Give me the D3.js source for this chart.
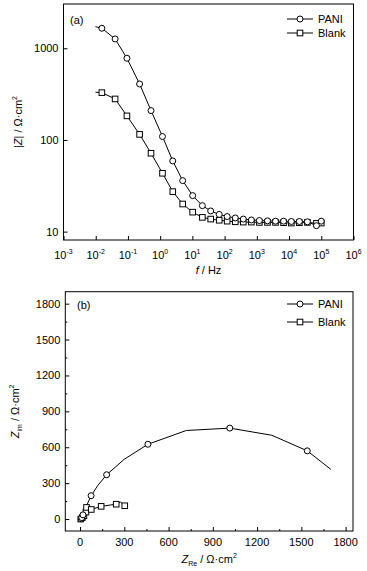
<!DOCTYPE html>
<html><head><meta charset="utf-8">
<script src="https://cdn.jsdelivr.net/npm/d3@7"></script>
<style>
body{margin:0;background:#fff}
text{font-family:"Liberation Sans",Arial,Helvetica,sans-serif;fill:#000}
</style>
</head><body>
<svg id="c" width="367" height="571"></svg>
<script>
// ---------- DATA ----------
// (a) Bode |Z| vs f
const bodeXTickExp = [-3,-2,-1,0,1,2,3,4,5,6];
const bodeYTicks = [10,100,1000];
const bodeFreq = [0.0098,0.0155,0.040,0.093,0.23,0.52,1.18,2.46,5.0,10.2,20.4,37,68,120,214,380,676,1200,2140,3800,6760,11750,20900,37150,70800,100000];
const bodePANI = [1720,1653,1264,778,408,209,109,59,36,24.7,19.2,16.8,15.4,14.6,14.1,13.7,13.4,13.2,13.1,13.0,13.0,12.9,12.9,12.8,11.6,13.0];
const bodeBlank = [332,328,280,183,115,71.6,43.3,27.3,20.0,16.3,14.3,13.7,13.3,13.0,12.8,12.7,12.7,12.6,12.6,12.6,12.5,12.4,12.5,12.6,12.3,12.4];
// (b) Nyquist
const nyqTicks = [0,300,600,900,1200,1500,1800];
const nyqPANIRe = [5,8,12,20,40,75,120,180,300,460,720,1015,1300,1540,1700];
const nyqPANIIm = [0,2,12,35,100,195,280,370,500,625,740,760,700,570,415];
const nyqPANIMarked = [1,2,3,5,7,9,11,13];
const nyqBlankRe = [5,15,26,40,44,76,143,245,274,303];
const nyqBlankIm = [0,12,27,58,97,80,106,124,142,111];
const nyqBlankMarked = [0,1,2,3,4,5,6,7,9];
const seriesNames = ["PANI","Blank"];

// ---------- DRAW ----------
const svg = d3.select("#c");
svg.append("rect").attr("width",367).attr("height",571).attr("fill","#fff");

function circleMark(g,x,y){ g.append("circle").attr("cx",x).attr("cy",y).attr("r",3).attr("fill","#fff").attr("stroke","#000").attr("stroke-width",1); }
function squareMark(g,x,y){ g.append("rect").attr("x",x-2.8).attr("y",y-2.8).attr("width",5.6).attr("height",5.6).attr("fill","#fff").attr("stroke","#000").attr("stroke-width",1); }

// ===== Panel (a) =====
const A = {l:63.5,r:353.5,t:4,b:240};
const xa = d3.scaleLog().domain([1e-3,1e6]).range([A.l,A.r]);
const ya = d3.scaleLog().domain([8.1,3040]).range([A.b,A.t]);
const ga = svg.append("g");

ga.append("g").attr("transform",`translate(0,${A.b})`)
  .call(d3.axisBottom(xa).tickValues(bodeXTickExp.map(e=>Math.pow(10,e))).tickSize(-4).tickFormat(""))
  .call(g=>{g.select(".domain").remove(); g.selectAll("line").attr("stroke","#000");});
ga.append("g").attr("transform",`translate(${A.l},0)`)
  .call(d3.axisLeft(ya).tickValues(bodeYTicks).tickSize(-4).tickFormat(""))
  .call(g=>{g.select(".domain").remove(); g.selectAll("line").attr("stroke","#000");});
ga.append("rect").attr("x",A.l).attr("y",A.t).attr("width",A.r-A.l).attr("height",A.b-A.t)
  .attr("fill","none").attr("stroke","#000").attr("stroke-width",1);

bodeXTickExp.forEach(e=>{
  const t = ga.append("text").attr("x",xa(Math.pow(10,e))).attr("y",A.b+19).attr("text-anchor","middle").attr("font-size",11);
  t.append("tspan").text("10");
  t.append("tspan").attr("dy",-5).attr("font-size",7).text(String(e));
});
bodeYTicks.forEach(v=>{
  ga.append("text").attr("x",A.l-5).attr("y",ya(v)+4).attr("text-anchor","end").attr("font-size",11).text(v);
});
{
  const t = ga.append("text").attr("x",(A.l+A.r)/2).attr("y",274).attr("text-anchor","middle").attr("font-size",11);
  t.append("tspan").attr("font-style","italic").text("f");
  t.append("tspan").text(" / Hz");
  const ty = ga.append("text").attr("transform",`translate(22,${(A.t+A.b)/2}) rotate(-90)`).attr("text-anchor","middle").attr("font-size",11);
  ty.append("tspan").text("|");
  ty.append("tspan").attr("font-style","italic").text("Z");
  ty.append("tspan").text("| / Ω·cm");
  ty.append("tspan").attr("dy",-5).attr("font-size",7).text("2");
}
ga.append("text").attr("x",70).attr("y",24).attr("font-size",11).text("(a)");

const lineA = d3.line().x(d=>xa(d[0])).y(d=>ya(d[1]));
const pA = bodeFreq.map((f,i)=>[f,bodePANI[i]]);
const bA = bodeFreq.map((f,i)=>[f,bodeBlank[i]]);
ga.append("path").attr("d",lineA(pA)).attr("fill","none").attr("stroke","#000").attr("stroke-width",1);
ga.append("path").attr("d",lineA(bA)).attr("fill","none").attr("stroke","#000").attr("stroke-width",1);
bA.forEach((d,i)=>{ if(i>0) squareMark(ga,xa(d[0]),ya(d[1])); });
pA.forEach((d,i)=>{ if(i>0) circleMark(ga,xa(d[0]),ya(d[1])); });

function legend(g,y1,y2){
  [[y1,circleMark,seriesNames[0]],[y2,squareMark,seriesNames[1]]].forEach(([y,m,name])=>{
    g.append("line").attr("x1",287).attr("x2",313).attr("y1",y).attr("y2",y).attr("stroke","#000");
    m(g,300,y);
    g.append("text").attr("x",318).attr("y",y+4).attr("font-size",11).text(name);
  });
}
legend(ga,19,33);

// ===== Panel (b) =====
const B = {l:65.3,r:353,t:291.7,b:531};
const xb = d3.scaleLinear().domain([-100,1850]).range([B.l,B.r]);
const yb = d3.scaleLinear().domain([-100,1900]).range([B.b,B.t]);
const gb = svg.append("g");
const minor = d3.range(-150,1900,150).filter(v=>v>-100 && v%300!==0);
gb.append("g").attr("transform",`translate(0,${B.b})`)
  .call(d3.axisBottom(xb).tickValues(nyqTicks).tickSize(-4).tickFormat(""))
  .call(g=>{g.select(".domain").remove(); g.selectAll("line").attr("stroke","#000");});
gb.append("g").attr("transform",`translate(0,${B.b})`)
  .call(d3.axisBottom(xb).tickValues(minor.filter(v=>v<1850)).tickSize(-2).tickFormat(""))
  .call(g=>{g.select(".domain").remove(); g.selectAll("line").attr("stroke","#000");});
gb.append("g").attr("transform",`translate(${B.l},0)`)
  .call(d3.axisLeft(yb).tickValues(nyqTicks).tickSize(-4).tickFormat(""))
  .call(g=>{g.select(".domain").remove(); g.selectAll("line").attr("stroke","#000");});
gb.append("g").attr("transform",`translate(${B.l},0)`)
  .call(d3.axisLeft(yb).tickValues(minor).tickSize(-2).tickFormat(""))
  .call(g=>{g.select(".domain").remove(); g.selectAll("line").attr("stroke","#000");});
gb.append("rect").attr("x",B.l).attr("y",B.t).attr("width",B.r-B.l).attr("height",B.b-B.t)
  .attr("fill","none").attr("stroke","#000").attr("stroke-width",1);
nyqTicks.forEach(v=>{
  gb.append("text").attr("x",xb(v)).attr("y",B.b+15).attr("text-anchor","middle").attr("font-size",11).text(v);
  gb.append("text").attr("x",B.l-5).attr("y",yb(v)+4).attr("text-anchor","end").attr("font-size",11).text(v);
});
{
  const t = gb.append("text").attr("x",(B.l+B.r)/2).attr("y",563).attr("text-anchor","middle").attr("font-size",11);
  t.append("tspan").attr("font-style","italic").text("Z");
  t.append("tspan").attr("dy",3).attr("font-size",7).text("Re");
  t.append("tspan").attr("dy",-3).text(" / Ω·cm");
  t.append("tspan").attr("dy",-5).attr("font-size",7).text("2");
  const ty = gb.append("text").attr("transform",`translate(19,${(B.t+B.b)/2}) rotate(-90)`).attr("text-anchor","middle").attr("font-size",11);
  ty.append("tspan").attr("font-style","italic").text("Z");
  ty.append("tspan").attr("dy",3).attr("font-size",7).text("im");
  ty.append("tspan").attr("dy",-3).text(" / Ω·cm");
  ty.append("tspan").attr("dy",-5).attr("font-size",7).text("2");
}
gb.append("text").attr("x",77).attr("y",309).attr("font-size",11).text("(b)");

const lineB = d3.line().x(d=>xb(d[0])).y(d=>yb(d[1]));
const pB = nyqPANIRe.map((r,i)=>[r,nyqPANIIm[i]]);
const bB = nyqBlankRe.map((r,i)=>[r,nyqBlankIm[i]]);
gb.append("path").attr("d",lineB(bB)).attr("fill","none").attr("stroke","#000").attr("stroke-width",1);
gb.append("path").attr("d",lineB(pB)).attr("fill","none").attr("stroke","#000").attr("stroke-width",1);
nyqBlankMarked.forEach(i=>squareMark(gb,xb(bB[i][0]),yb(bB[i][1])));
nyqPANIMarked.forEach(i=>circleMark(gb,xb(pB[i][0]),yb(pB[i][1])));
legend(gb,304,322);
</script>
</body></html>
